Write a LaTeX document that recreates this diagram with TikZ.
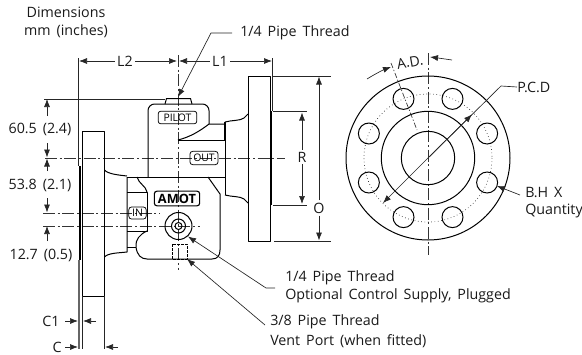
\documentclass[tikz,border=0pt]{standalone}
\usepackage{fontspec}
\setmainfont[WordSpace=1.6]{Open Sans}
\usetikzlibrary{arrows.meta}
\tikzset{
 part/.style={draw=black,line width=0.75pt,line join=round},
 heavy/.style={draw=black,line width=1.2pt},
 thin/.style={draw=black!85,line width=0.5pt},
 grey/.style={draw=black!60,line width=0.8pt},
 centre/.style={draw=black!80,line width=0.5pt,dash pattern=on 9pt off 2pt on 1.5pt off 2pt},
 dim/.style={draw=black!85,line width=0.5pt,-{Latex[length=6pt,width=4.5pt]}},
 lab/.style={font=\fontsize{10.7}{12}\selectfont,text=black!90,inner sep=1.5pt},
 lft/.style={lab,anchor=west,inner sep=0pt},
 tag/.style={draw=black,line width=0.55pt,rounded corners=2pt,font=\fontsize{7.8}{9}\selectfont,inner sep=0pt,align=center},
 hole/.style={draw=black,line width=0.75pt},
}
\begin{document}
\begin{tikzpicture}[x=0.75pt,y=-0.75pt]
\useasboundingbox (0,0) rectangle (582,354);
% centre lines (behind)
\draw[centre] (178,55) -- (178,270);
\draw[centre] (45,158) -- (285,158);
\draw[centre] (43,213) -- (160,213);
\draw[centre] (43,226) -- (200,226);
\draw[centre] (428,53) -- (428,255);
% left flange
\draw[part] (82.5,131) rectangle (104.5,296);
\draw[heavy] (80,166) -- (80,260);
\draw[thin] (78.5,58) -- (78.5,166);
\draw[grey] (79,260) -- (79,349);
\draw[thin] (82.5,296) -- (82.5,349);
\draw[thin] (104.5,296) -- (104.5,349);
% right flange
\draw[part] (248,76) rectangle (270,241);
\draw[heavy] (271,111) -- (271,205);
\draw[thin] (272.5,58) -- (272.5,111);
\draw[thin] (272,76) -- (331,76);
\draw[thin] (274,241) -- (331,241);
\draw[thin] (273,111.5) -- (307,111.5);
\draw[thin] (273,205) -- (307,205);
% body
\draw[part] (148,177) -- (148,110) [rounded corners=5pt] -- (148,104) -- (209,104) -- (209,124) ;
\draw[part] (165,104) -- (166.5,98.5) -- (190.5,98.5) -- (192,104);
\draw[thin] (44,99) -- (165,99);
\draw[part] (178,140) .. controls (190,137) and (200,131) .. (209,124) -- (225,124);
\draw[part] (178,140) -- (225,140);
\draw[heavy] (225,122) -- (225,140);
\draw[part] (225,140) -- (225,195);
\draw[part] (225,122) .. controls (232,120) and (240,121) .. (244,118) -- (248,114);
\draw[part] (225,195) .. controls (232,197) and (240,196) .. (244,199) -- (248,203);
\draw[part] (127,177) -- (225,177);
\draw[part] (104.5,170) .. controls (108,174) and (118,175) .. (127,176);
\draw[part] (104.5,257) .. controls (108,253) and (118,253) .. (127,252) -- (127,177);
\draw[part] (127,192) -- (147,192) -- (147,231) -- (127,231);
\draw[part] (137,177) .. controls (139,184) and (146,186) .. (147,192);
\draw[part] (127,247) -- (136,247);
\draw[part] (147,231) .. controls (140,234) and (135,240) .. (136,247) .. controls (137,255) and (141,259) .. (147,259) -- (212,259) .. controls (218,259) and (220,255) .. (220,250) -- (220,194) -- (208,177);
\draw[part,dash pattern=on 2pt off 1pt] (172,244) rectangle (187,259);
\draw[part] (178.5,226) circle [radius=13.5];
\draw[part] (178.5,226) circle [radius=7];
\draw[part] (178.5,226) circle [radius=3.5];
% tags
\node[tag,minimum width=29pt,minimum height=9.5pt] (pilot) at (177.5,117.5) {PILOT};
\node[tag,minimum width=21pt,minimum height=10pt] (out) at (204,158) {OUT};
\node[tag,minimum width=34pt,minimum height=11pt,line width=0.85pt,font=\fontsize{9.6}{10}\bfseries\selectfont] (amot) at (177,198.5) {AMOT};
\node[tag,minimum width=13pt,minimum height=9pt] (in) at (137.5,213) {IN};
% flange face view
\draw[part] (428,158) circle [radius=82];
\draw[part] (428,158) circle [radius=46.7];
\draw[part] (428,158) circle [radius=26.7];
\draw[thin,dotted] (428,158) circle [radius=64];
\foreach \a in {22.5,67.5,...,360} \draw[hole] ({428+64*cos(\a)},{158+64*sin(\a)}) circle [radius=10.5];
% texts
\node[lab,align=center] (dimtxt) at (66,22) {Dimensions\\[1.6pt]mm (inches)};
\node[lft] (t1) at (240,33) {1/4 Pipe Thread};
\node[lft] (t2) at (285,278) {1/4 Pipe Thread};
\node[lft] (t3) at (285,296) {Optional Control Supply, Plugged};
\node[lft] (t4) at (270,322) {3/8 Pipe Thread};
\node[lft] (t5) at (270,341) {Vent Port (when fitted)};
\node[lab] (d1) at (40,129) {60.5 (2.4)};
\node[lab] (d2) at (40,185) {53.8 (2.1)};
\node[lab] (d3) at (41,255) {12.7 (0.5)};
\node[lab] (l2) at (125,61) {L2};
\node[lab] (l1) at (220,61) {L1};
\node[lab] (r) at (302,157) {R};
\node[lab] (o) at (319,208) {O};
\node[lab] (c1) at (51,321) {C1};
\node[lab] (c) at (57,347) {C};
\node[lab,rotate=10,inner sep=0pt] (ad) at (410,62) {A.D.};
\node[lft] (pcd) at (517,87) {P.C.D};
\node[lft] (bh) at (525,193) {B.H X};
\node[lft] (qty) at (525,211) {Quantity};
% leader / dimension coordinates
\coordinate (a1) at (232,33); \coordinate (a1b) at (211,33); \coordinate (a1t) at (178,97);
\coordinate (a2b) at (266,288); \coordinate (a2s) at (275,288); \coordinate (a2t) at (188,236.5);
\coordinate (a3s) at (265,325); \coordinate (a3t) at (187,259);
\draw[dim] (a1) -- (a1b) -- (a1t);
\draw[dim] (a2s) -- (a2b) -- (a2t);
\draw[dim] (a3s) -- (a3t);
\coordinate (x79) at (79,61); \coordinate (x177) at (177,61); \coordinate (x179) at (179,61); \coordinate (x272) at (272,61);
\draw[dim] (l2) -- (x79); \draw[dim] (l2) -- (x177); \draw[dim] (l1) -- (x179); \draw[dim] (l1) -- (x272);
\coordinate (y99) at (47,99); \coordinate (y99s) at (47,116); \coordinate (y158a) at (47,157.5); \coordinate (y158as) at (47,143);
\coordinate (y158b) at (47,158.5); \coordinate (y158bs) at (47,171); \coordinate (y213) at (47,212.5); \coordinate (y213s) at (47,198);
\coordinate (y226) at (47,226); \coordinate (y226s) at (47,241);
\draw[dim] (y99s) -- (y99); \draw[dim] (y158as) -- (y158a); \draw[dim] (y158bs) -- (y158b); \draw[dim] (y213s) -- (y213); \draw[dim] (y226s) -- (y226);
\coordinate (c1a) at (65,321); \coordinate (c1b) at (78,321); \coordinate (c1c) at (96,321); \coordinate (c1d) at (83,321);
\coordinate (ca) at (65,347); \coordinate (cb) at (78,347); \coordinate (cc) at (118,347); \coordinate (cd) at (105,347);
\draw[dim] (c1a) -- (c1b); \draw[dim] (c1c) -- (c1d); \draw[dim] (ca) -- (cb); \draw[dim] (cc) -- (cd);
\coordinate (rt) at (302,112.5); \coordinate (rb) at (302,204);
\draw[dim] (r) -- (rt); \draw[dim] (r) -- (rb);
\coordinate (ot) at (319,76.5); \coordinate (ob) at (319,240.5);
\draw[dim] (o) -- (ot); \draw[dim] (o) -- (ob);
\coordinate (ada) at (391,63); \coordinate (adb) at (417,130);
\draw[centre,dash pattern=on 4pt off 1.5pt on 1pt off 1.5pt] (ada) -- (adb);
\coordinate (adl) at (367,79); \coordinate (adlt) at (391,67);
\coordinate (adr) at (452,60); \coordinate (adrt) at (430,57);
\draw[dim] (adl) .. controls (375,74) and (383,70) .. (adlt);
\draw[dim] (adr) .. controls (445,59) and (438,58) .. (adrt);
\coordinate (pa) at (383,203); \coordinate (pb) at (472,114.5); \coordinate (pk) at (501,86); \coordinate (pm) at (428,158);
\draw[dim] (pm) -- (pa);
\draw[thin] (pm) -- (pk) -- (pcd.west);
\draw[dim] (pm) -- (pb);
\coordinate (bhs) at (520,195); \coordinate (bht) at (497,186);
\draw[dim] (bhs) -- (bht);
\end{tikzpicture}
\end{document}
